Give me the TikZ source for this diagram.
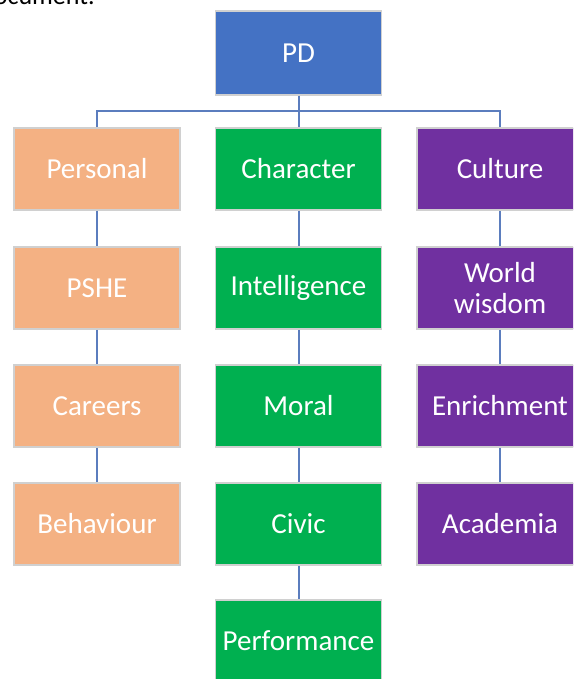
\documentclass[tikz,border=0pt]{standalone}
\usepackage{fontspec}
\setmainfont{Carlito}
\usetikzlibrary{calc}
\definecolor{pdblue}{HTML}{4472C4}
\definecolor{pdorange}{HTML}{F4B183}
\definecolor{pdgreen}{HTML}{00B050}
\definecolor{pdpurple}{HTML}{7030A0}
\definecolor{boxgray}{HTML}{D0D0D0}
\definecolor{linkblue}{HTML}{5B7DBE}
\begin{document}
\begin{tikzpicture}[x=1pt,y=-1pt,
    box/.style={draw=boxgray,line width=1.5pt,minimum width=166pt,minimum height=82pt,
      inner sep=0pt,text=white,align=center,font=\fontsize{29}{31}\selectfont},
    link/.style={draw=linkblue,line width=2pt}]
      \clip (0,0) rectangle (573,679);
      \fill[white] (0,0) rectangle (573,679);
      \node[anchor=base west,inner sep=0pt,font=\fontsize{26}{30}\selectfont] (doc) at (-20,5) {document.};
      \node[box,fill=pdblue,minimum height=84pt] (pd) at (298.5,53) {PD};
      \foreach \n/\x/\y/\t/\c in {%
        per/97/169/Personal/pdorange,
        pshe/97/288/PSHE/pdorange,
        car/97/406/Careers/pdorange,
        beh/97/524/Behaviour/pdorange,
        cha/298.5/169/Character/pdgreen,
        int/298.5/288/Intelligence/pdgreen,
        mor/298.5/406/Moral/pdgreen,
        civ/298.5/524/Civic/pdgreen,
        perf/298.5/641/Performance/pdgreen,
        cul/500/169/Culture/pdpurple,
        wor/500/288/{World\\wisdom}/pdpurple,
        enr/500/406/Enrichment/pdpurple,
        aca/500/524/Academia/pdpurple}{%
          \node[box,fill=\c] (\n) at (\x,\y) {\t};
        }
      \draw[link] (pd.south) -- (cha.north);
      \draw[link] (per.north) |- ($(pd.south)!.5!(cha.north)$) -| (cul.north);
      \foreach \a/\b in {per/pshe,pshe/car,car/beh,cha/int,int/mor,mor/civ,civ/perf,cul/wor,wor/enr,enr/aca}{%
        \draw[link] (\a.south) -- (\b.north);
      }
\end{tikzpicture}
\end{document}
